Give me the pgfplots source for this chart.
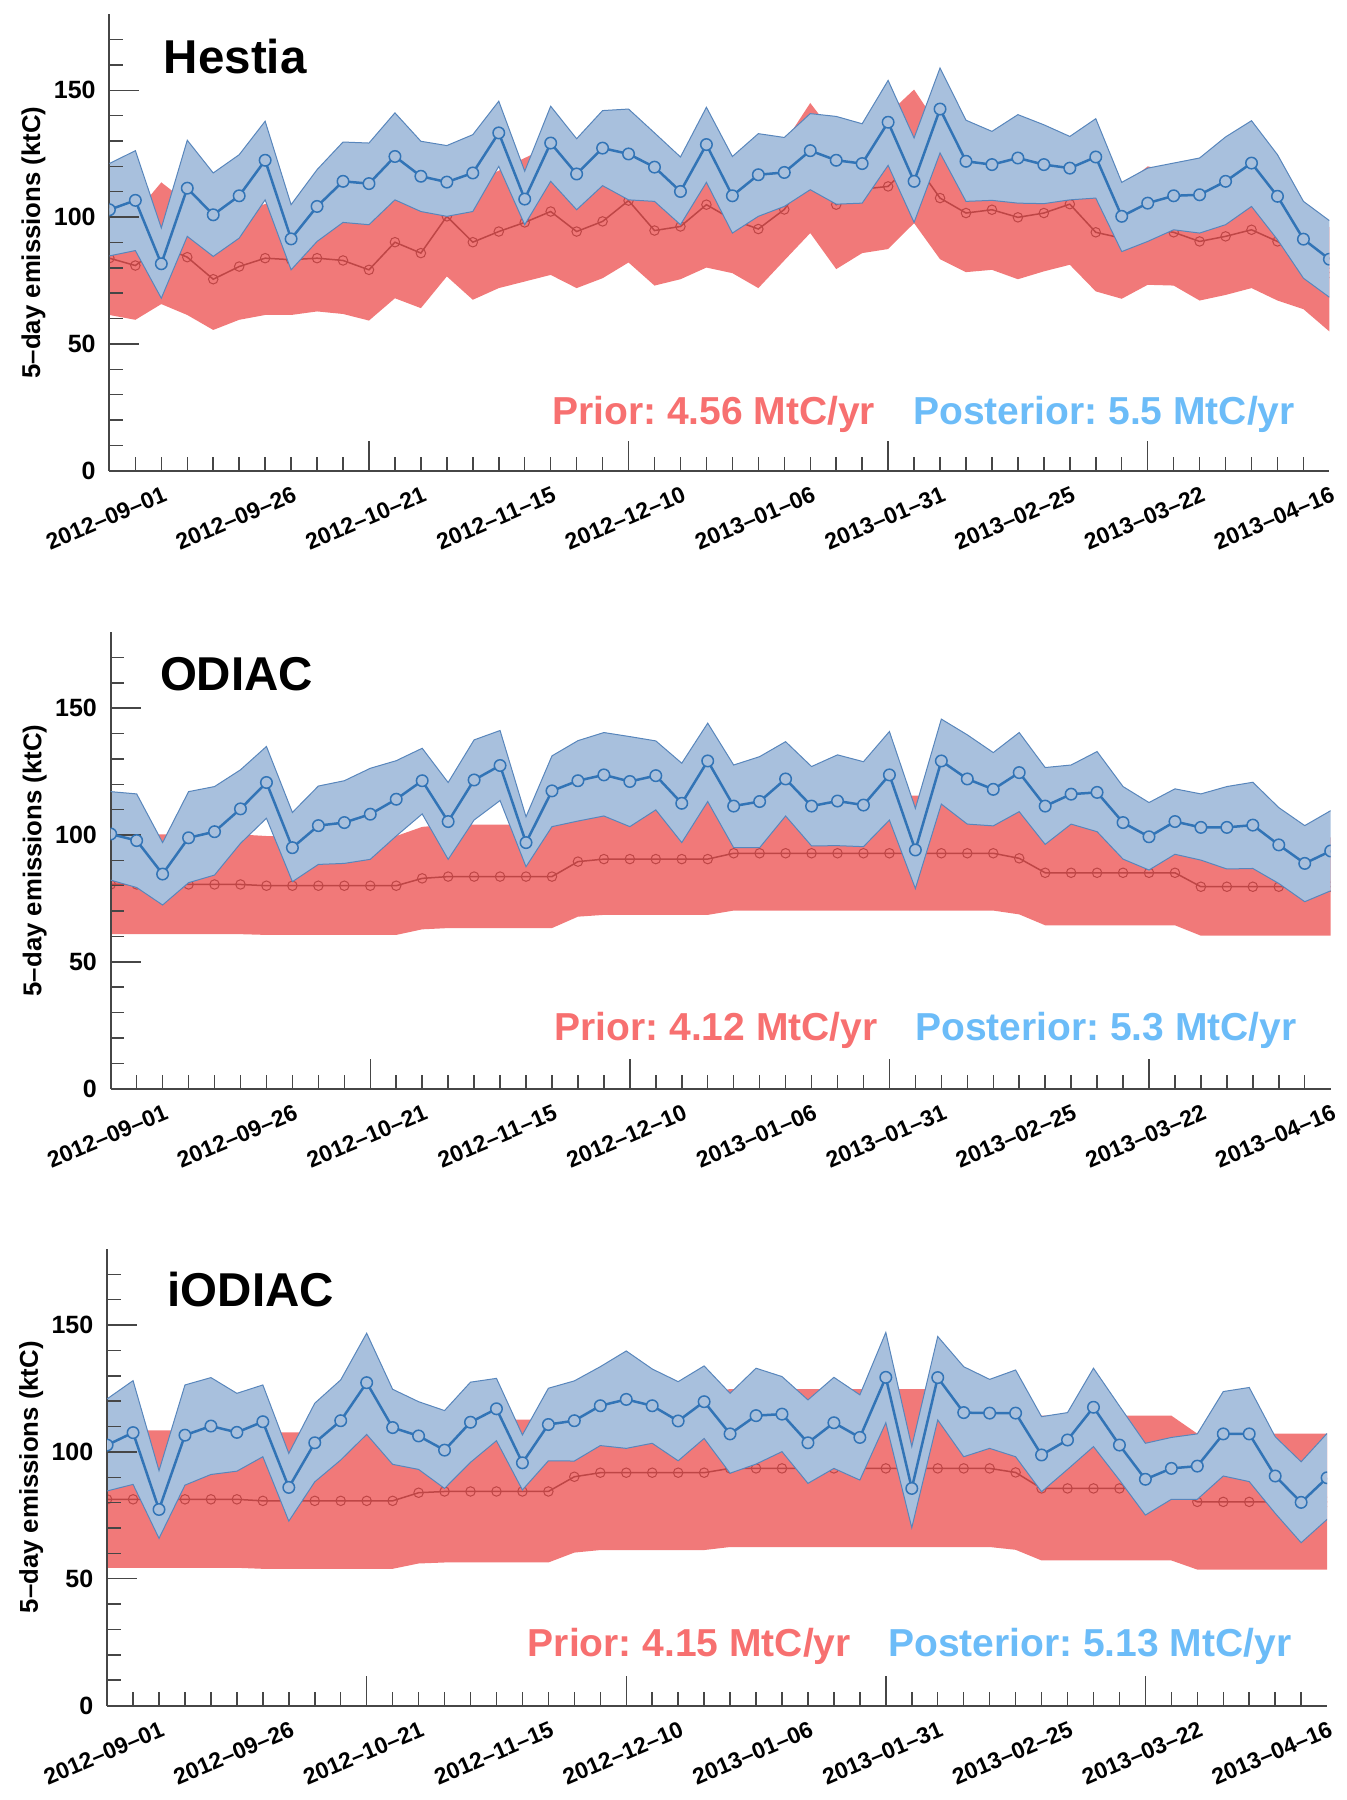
\documentclass[border=0pt]{standalone}
\usepackage{fontspec}
\setmainfont{Liberation Sans}
\usepackage{pgfplots}
\usepgfplotslibrary{fillbetween}
\usepackage{pgfplotstable}
\pgfplotsset{compat=1.18}

\definecolor{bandred}{RGB}{241,121,121}
\definecolor{linered}{RGB}{190,70,70}
\definecolor{bandblue}{RGB}{168,192,221}
\definecolor{edgeblue}{RGB}{88,134,188}
\definecolor{lineblue}{RGB}{50,116,182}
\definecolor{txtred}{RGB}{247,112,112}
\definecolor{txtblue}{RGB}{108,188,248}
\definecolor{axgray}{RGB}{70,70,70}

\pgfdeclarelayer{redfill}
\pgfdeclarelayer{redline}
\pgfdeclarelayer{bluefill}

\pgfplotstableread{
i qm qu ql pm pu pl
0 83.8 105.2 61.4 102.9 121.1 84.7
1 80.9 101.5 59.5 106.6 126.2 86.8
2 88.5 113.7 65.7 81.6 95.7 68.0
3 84.2 105.7 61.4 111.4 130.3 92.4
4 75.5 94.8 55.5 100.9 117.4 84.5
5 80.5 101.0 59.5 108.4 124.6 91.7
6 83.8 105.2 61.4 122.4 137.8 106.8
7 83.2 104.0 61.4 91.4 104.9 79.2
8 83.8 105.2 62.8 104.2 118.7 90.4
9 82.9 104.0 61.8 114.1 129.6 97.9
10 79.2 99.4 59.2 113.2 129.2 97.0
11 90.1 113.1 68.0 123.9 141.1 106.8
12 85.8 107.7 64.1 116.1 129.9 102.2
13 100.3 125.9 76.6 113.8 128.2 100.3
14 90.1 113.1 67.4 117.4 132.5 102.2
15 94.3 118.3 72.0 133.2 145.7 120.0
16 97.9 123.3 74.6 107.1 118.1 97.0
17 102.2 128.3 77.2 129.2 143.7 114.1
18 94.3 118.3 72.0 117.0 130.9 102.9
19 98.3 123.4 75.9 127.2 142.0 112.4
20 106.5 134.0 82.1 124.9 142.6 106.8
21 94.7 118.8 73.0 119.7 133.2 106.2
22 96.3 120.9 75.5 110.1 123.7 97.0
23 104.9 131.6 80.1 128.6 143.3 113.7
24 99.0 121.0 77.9 108.4 123.9 93.7
25 95.3 119.6 72.0 116.7 132.9 100.3
26 103.0 129.3 82.9 117.6 131.4 104.2
27 118.0 145.0 93.7 126.2 140.8 110.8
28 104.9 131.6 79.5 122.4 139.7 105.1
29 111.0 134.0 85.8 121.1 136.8 105.5
30 112.1 140.7 87.4 137.4 153.9 120.4
31 122.0 150.3 97.6 114.1 131.2 97.9
32 107.5 134.9 83.4 142.6 158.8 125.3
33 101.6 127.5 78.3 122.0 138.2 106.2
34 102.9 129.1 79.2 120.7 133.8 106.6
35 99.9 125.4 75.5 123.3 140.4 105.5
36 101.6 127.5 78.6 120.7 136.4 105.3
37 105.1 130.0 81.2 119.3 131.8 106.8
38 94.0 118.0 70.7 123.7 138.8 107.5
39 91.7 112.0 67.8 100.3 113.7 86.4
40 95.5 120.0 73.3 105.5 119.3 90.4
41 94.0 118.0 73.0 108.4 121.3 95.0
42 90.4 113.5 67.1 108.8 123.3 93.7
43 92.4 116.0 69.3 114.1 131.6 97.0
44 95.0 119.2 72.0 121.3 138.0 104.2
45 90.4 113.5 67.1 108.2 124.6 91.1
46 85.0 104.0 63.7 91.3 106.2 75.9
47 78.0 96.0 54.9 83.4 98.6 68.4
}\hestia

\pgfplotstableread{
i qm qu ql pm pu pl
0 80.5 100.2 60.9 100.4 117.1 82.2
1 80.5 100.2 60.9 97.8 116.2 79.3
2 80.5 100.2 60.9 84.6 97.0 72.4
3 80.5 100.2 60.9 98.9 117.1 81.2
4 80.5 100.2 60.9 101.3 119.1 84.2
5 80.5 100.2 60.9 110.3 125.7 96.7
6 80.0 99.6 60.6 120.7 134.9 106.6
7 80.0 99.6 60.6 95.0 108.9 81.6
8 80.0 99.6 60.6 103.7 119.3 88.4
9 80.0 99.6 60.6 104.9 121.4 88.8
10 80.0 99.6 60.6 108.2 126.3 90.4
11 80.0 99.6 60.6 114.1 129.3 99.6
12 82.9 103.2 62.8 121.4 134.2 108.3
13 83.6 104.1 63.3 105.3 120.7 90.4
14 83.6 104.1 63.3 121.7 137.5 105.9
15 83.6 104.1 63.3 127.4 141.2 113.6
16 83.6 104.1 63.3 97.0 107.2 87.5
17 83.6 104.1 63.3 117.4 131.2 103.3
18 89.5 111.4 67.8 121.4 137.2 105.5
19 90.5 112.7 68.5 123.7 140.4 107.5
20 90.5 112.7 68.5 121.1 138.8 103.3
21 90.5 112.7 68.5 123.4 137.1 109.9
22 90.5 112.7 68.5 112.5 128.3 97.0
23 90.5 112.7 68.5 129.2 144.1 113.2
24 92.8 115.5 70.2 111.4 127.6 95.0
25 92.8 115.5 70.2 113.2 130.9 95.0
26 92.8 115.5 70.2 122.1 136.8 107.5
27 92.8 115.5 70.2 111.4 127.0 95.7
28 92.8 115.5 70.2 113.4 131.6 95.8
29 92.8 115.5 70.2 111.8 128.9 95.4
30 92.8 115.5 70.2 123.7 140.8 105.9
31 92.8 115.5 70.2 94.1 110.5 78.9
32 92.8 115.5 70.2 129.2 145.7 112.2
33 92.8 115.5 70.2 122.1 139.5 104.3
34 92.8 115.5 70.2 118.0 132.5 103.6
35 90.8 113.0 68.7 124.6 140.4 109.2
36 85.1 105.9 64.4 111.4 126.6 96.3
37 85.1 105.9 64.4 116.1 127.6 104.3
38 85.1 105.9 64.4 116.8 132.9 101.3
39 85.1 105.9 64.4 104.9 119.1 90.5
40 85.1 105.9 64.4 99.3 112.8 86.2
41 85.1 105.9 64.4 105.3 118.2 92.4
42 79.6 99.1 60.3 103.0 116.2 90.1
43 79.6 99.1 60.3 103.0 119.1 86.6
44 79.6 99.1 60.3 103.9 120.8 86.8
45 79.6 99.1 60.3 96.1 110.8 80.9
46 79.6 99.1 60.3 88.8 103.7 73.7
47 79.6 99.1 60.3 93.7 109.6 78.0
}\odiac

\pgfplotstableread{
i qm qu ql pm pu pl
0 81.3 108.5 54.3 102.7 120.9 84.6
1 81.3 108.5 54.3 107.6 128.1 87.2
2 81.3 108.5 54.3 77.3 92.6 65.9
3 81.3 108.5 54.3 106.6 126.4 86.9
4 81.3 108.5 54.3 110.2 129.3 91.1
5 81.3 108.5 54.3 107.7 123.1 92.4
6 80.7 107.7 53.9 111.9 126.4 98.1
7 80.7 107.7 53.9 86.0 99.4 72.7
8 80.7 107.7 53.9 103.6 119.2 88.2
9 80.7 107.7 53.9 112.3 128.4 96.8
10 80.7 107.7 53.9 127.3 146.8 106.9
11 80.7 107.7 53.9 109.6 124.7 95.1
12 83.9 112.0 56.0 106.3 119.8 93.1
13 84.4 112.7 56.4 100.7 116.3 85.6
14 84.4 112.7 56.4 111.7 127.5 95.9
15 84.4 112.7 56.4 117.0 129.0 104.4
16 84.4 112.7 56.4 95.7 106.7 85.0
17 84.4 112.7 56.4 110.8 125.1 96.5
18 90.2 120.4 60.3 112.3 128.0 96.4
19 91.8 122.6 61.3 118.2 133.6 102.5
20 91.8 122.6 61.3 120.7 139.8 101.4
21 91.8 122.6 61.3 118.2 132.7 103.4
22 91.8 122.6 61.3 112.2 127.7 96.5
23 91.8 122.6 61.3 119.8 133.9 105.3
24 93.5 124.8 62.5 107.1 123.1 91.6
25 93.5 124.8 62.5 114.3 133.0 95.2
26 93.5 124.8 62.5 114.9 129.7 100.1
27 93.5 124.8 62.5 103.6 120.5 87.6
28 93.5 124.8 62.5 111.5 129.4 93.5
29 93.5 124.8 62.5 105.7 122.5 88.9
30 93.5 124.8 62.5 129.4 147.1 111.5
31 93.5 124.8 62.5 85.6 102.1 70.1
32 93.5 124.8 62.5 129.3 145.5 112.6
33 93.5 124.8 62.5 115.5 133.6 98.1
34 93.5 124.8 62.5 115.3 128.6 101.4
35 91.9 122.7 61.4 115.3 132.3 98.1
36 85.6 114.3 57.2 98.8 113.9 84.3
37 85.6 114.3 57.2 104.7 115.5 93.1
38 85.6 114.3 57.2 117.6 133.0 102.1
39 85.6 114.3 57.2 102.7 118.1 88.9
40 85.6 114.3 57.2 89.2 103.4 75.1
41 85.6 114.3 57.2 93.5 105.7 81.3
42 80.3 107.2 53.6 94.4 107.1 81.3
43 80.3 107.2 53.6 107.1 123.8 90.5
44 80.3 107.2 53.6 107.1 125.4 88.3
45 80.3 107.2 53.6 90.5 106.0 75.8
46 80.3 107.2 53.6 80.1 96.1 64.2
47 80.3 107.2 53.6 89.8 107.3 73.4
}\iodiac

\pgfplotsset{
  layers/mine/.define layer set={axis background,axis grid,axis tick labels,pre main,redfill,redline,bluefill,main,axis ticks,axis lines,axis descriptions,axis foreground}{},
  panel/.style={
    set layers=mine,
    scale only axis, width=488pt, height=182.6pt,
    xmin=0, xmax=47, ymin=0, ymax=180,
    axis x line=bottom, axis y line=left,
    axis line style={-, line width=0.8pt, draw=axgray},
    tick align=inside,
    ytick={0,50,100,150},
    minor ytick={10,20,...,170},
    xtick={10,20,30,40},
    xticklabels={,,,},
    minor xtick={1,...,46},
    major tick length=12pt, minor tick length=5.5pt,
    every tick/.style={line width=0.6pt, draw=axgray},
    extra x ticks={2,7,12,17,22,27,32,37,42,47},
    extra x tick labels={2012–09–01,2012–09–26,2012–10–21,2012–11–15,2012–12–10,2013–01–06,2013–01–31,2013–02–25,2013–03–22,2013–04–16},
    extra x tick style={major tick length=0pt},
    xticklabel style={rotate=23, anchor=north east, inner sep=0pt, yshift=-5.5pt, xshift=-2pt, font=\bfseries\fontsize{9.2}{10}\selectfont},
    yticklabel style={font=\bfseries\fontsize{10}{11}\selectfont, xshift=-2pt},
    /pgf/number format/assume math mode=true,
    ylabel={5–day emissions (ktC)},
    ylabel style={at={(axis description cs:-0.0623,0.5)}, anchor=center, font=\bfseries\fontsize{10.3}{11}\selectfont},
    clip=true, clip mode=individual, clip marker paths=true,
  },
  qline/.style={linered, line width=0.6pt, mark=o, mark size=1.9pt, mark layer=like plot, mark options={draw=linered, line width=0.4pt}},
  pline/.style={lineblue, line width=1pt, mark=*, mark size=2.3pt, mark options={fill=bandblue, draw=lineblue, line width=0.6pt}},
}

\newcommand{\panel}[1]{%
  \addplot[name path=qu, draw=none] table[x=i,y=qu]{#1};
  \addplot[name path=ql, draw=none] table[x=i,y=ql]{#1};
  \addplot[fill=bandred, draw=none] fill between[of=qu and ql, on layer=redfill];
  \addplot[qline, on layer=redline] table[x=i,y=qm]{#1};
  \addplot[name path=pu, draw=none] table[x=i,y=pu]{#1};
  \addplot[name path=pl, draw=none] table[x=i,y=pl]{#1};
  \addplot[fill=bandblue, draw=none] fill between[of=pu and pl, on layer=bluefill];
  \addplot[edgeblue, line width=0.4pt] table[x=i,y=pu]{#1};
  \addplot[edgeblue, line width=0.4pt] table[x=i,y=pl]{#1};
  \addplot[pline] table[x=i,y=pm]{#1};
}

\tikzset{
  ttl/.style={anchor=base west, inner sep=0pt, font=\bfseries\fontsize{19}{22}\selectfont},
  prior/.style={anchor=base east, inner sep=0pt, text=txtred, font=\bfseries\fontsize{15.6}{18}\selectfont},
  post/.style={anchor=base east, inner sep=0pt, text=txtblue, font=\bfseries\fontsize{15.6}{18}\selectfont},
}

\begin{document}
\frenchspacing
\begin{tikzpicture}
\path (0,0) rectangle (538.4pt,-720pt);

\begin{axis}[panel, at={(43.76pt,-188.28pt)}, anchor=south west]
\panel{\hestia}
\node[ttl] at (axis cs:2.08,156.7) {Hestia};
\node[prior] at (axis cs:29.52,18.4) {Prior: 4.56 MtC/yr};
\node[post] at (axis cs:45.69,18.4) {Posterior: 5.5 MtC/yr};
\end{axis}

\begin{axis}[panel, at={(44.28pt,-435.44pt)}, anchor=south west]
\panel{\odiac}
\node[ttl] at (axis cs:1.88,157) {ODIAC};
\node[prior] at (axis cs:29.56,19.0) {Prior: 4.12 MtC/yr};
\node[post] at (axis cs:45.71,19.0) {Posterior: 5.3 MtC/yr};
\end{axis}

\begin{axis}[panel, at={(42.84pt,-682.2pt)}, anchor=south west]
\panel{\iodiac}
\node[ttl] at (axis cs:2.31,157.5) {iODIAC};
\node[prior] at (axis cs:28.67,19.5) {Prior: 4.15 MtC/yr};
\node[post] at (axis cs:45.64,19.5) {Posterior: 5.13 MtC/yr};
\end{axis}
\end{tikzpicture}
\end{document}
